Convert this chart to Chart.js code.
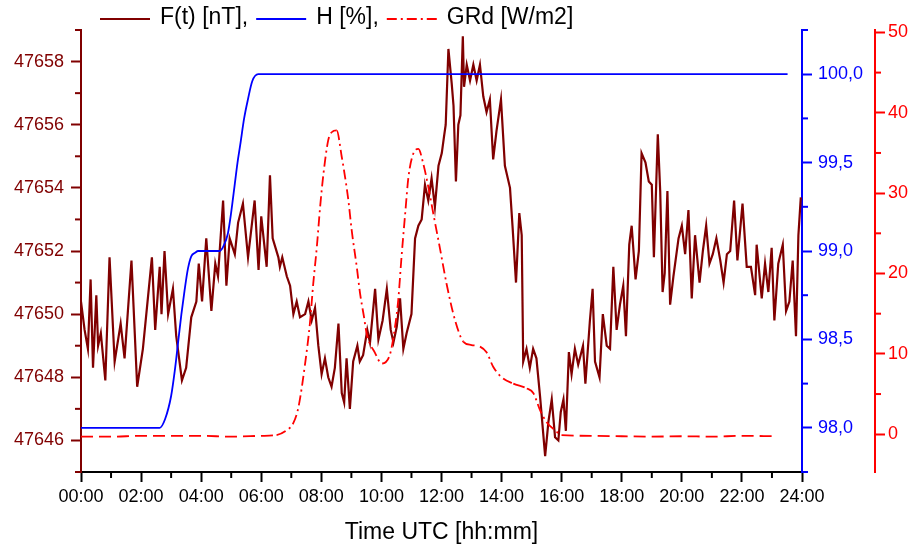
<!DOCTYPE html>
<html>
<head>
<meta charset="utf-8">
<script src="https://cdn.jsdelivr.net/npm/chart.js@4.4.0/dist/chart.umd.min.js"></script>
<style>
  html, body { margin: 0; padding: 0; background: #fff; }
</style>
</head>
<body>
<canvas id="chart" width="912" height="546"></canvas>
<script>
// F(t) [nT], hours UTC
const fieldHours = [0.00, 0.12, 0.23, 0.32, 0.40, 0.51, 0.57, 0.66, 0.81, 0.95, 1.12, 1.32, 1.45, 1.68, 1.87, 2.06, 2.36, 2.47, 2.62, 2.68, 2.78, 2.90, 3.06, 3.17, 3.36, 3.50, 3.67, 3.84, 3.92, 4.03, 4.17, 4.34, 4.47, 4.56, 4.73, 4.84, 4.95, 5.12, 5.23, 5.39, 5.56, 5.78, 5.91, 6.00, 6.18, 6.29, 6.38, 6.57, 6.62, 6.70, 6.85, 6.96, 7.07, 7.18, 7.29, 7.46, 7.57, 7.68, 7.79, 7.90, 8.01, 8.12, 8.23, 8.34, 8.45, 8.57, 8.68, 8.76, 8.84, 8.95, 9.06, 9.20, 9.28, 9.39, 9.53, 9.62, 9.79, 9.90, 10.04, 10.18, 10.31, 10.40, 10.51, 10.62, 10.73, 10.84, 11.00, 11.12, 11.23, 11.34, 11.45, 11.56, 11.67, 11.78, 11.90, 12.01, 12.08, 12.14, 12.23, 12.34, 12.40, 12.48, 12.56, 12.63, 12.71, 12.75, 12.84, 12.95, 13.06, 13.17, 13.28, 13.39, 13.50, 13.61, 13.72, 13.83, 13.98, 14.11, 14.28, 14.37, 14.48, 14.59, 14.67, 14.72, 14.83, 14.94, 15.05, 15.16, 15.28, 15.45, 15.56, 15.67, 15.78, 15.89, 15.97, 16.06, 16.14, 16.24, 16.33, 16.44, 16.55, 16.71, 16.79, 16.94, 17.03, 17.11, 17.26, 17.37, 17.50, 17.61, 17.72, 17.83, 17.94, 18.05, 18.14, 18.25, 18.33, 18.46, 18.57, 18.66, 18.79, 18.90, 19.00, 19.07, 19.20, 19.28, 19.36, 19.43, 19.52, 19.61, 19.72, 19.89, 20.00, 20.11, 20.22, 20.33, 20.44, 20.59, 20.70, 20.81, 20.92, 21.03, 21.15, 21.28, 21.39, 21.50, 21.61, 21.74, 21.85, 22.02, 22.16, 22.30, 22.44, 22.49, 22.66, 22.77, 22.88, 22.99, 23.08, 23.21, 23.36, 23.47, 23.58, 23.69, 23.80, 23.88, 23.96]
const fieldValues = [47650.4, 47649.5, 47648.9, 47651.1, 47648.3, 47650.6, 47649.0, 47649.4, 47647.9, 47651.8, 47648.5, 47649.7, 47648.6, 47651.7, 47647.7, 47648.9, 47651.8, 47649.5, 47651.5, 47650.0, 47652.0, 47650.0, 47650.8, 47649.3, 47647.9, 47648.3, 47649.9, 47650.4, 47651.6, 47650.4, 47652.4, 47650.1, 47651.6, 47651.2, 47653.6, 47650.9, 47652.4, 47651.9, 47652.9, 47653.5, 47651.8, 47653.6, 47651.4, 47653.1, 47651.5, 47654.4, 47652.4, 47651.8, 47651.5, 47651.8, 47651.2, 47650.9, 47650.0, 47650.4, 47649.9, 47650.0, 47650.4, 47649.8, 47650.2, 47649.0, 47648.1, 47648.6, 47648.0, 47647.7, 47648.3, 47649.7, 47647.5, 47647.2, 47648.6, 47647.0, 47648.5, 47649.0, 47648.5, 47648.7, 47649.5, 47649.1, 47650.8, 47649.2, 47649.8, 47650.8, 47649.5, 47649.1, 47649.6, 47650.5, 47648.9, 47649.4, 47650.0, 47652.4, 47652.8, 47653.0, 47654.1, 47653.6, 47654.3, 47653.4, 47654.7, 47655.1, 47655.6, 47656.0, 47658.4, 47657.3, 47656.6, 47654.2, 47656.0, 47656.3, 47658.8, 47657.2, 47657.9, 47657.4, 47657.9, 47657.4, 47657.9, 47656.9, 47656.4, 47656.8, 47654.9, 47655.8, 47656.8, 47654.7, 47654.0, 47652.7, 47651.0, 47653.2, 47652.5, 47648.5, 47648.9, 47648.3, 47648.9, 47648.6, 47647.4, 47645.5, 47646.6, 47647.3, 47646.1, 47646.0, 47646.9, 47647.3, 47646.3, 47648.8, 47648.1, 47648.9, 47648.4, 47649.0, 47647.8, 47649.8, 47650.8, 47648.5, 47648.0, 47650.0, 47649.0, 47648.9, 47651.5, 47649.5, 47650.3, 47650.9, 47649.3, 47652.2, 47652.8, 47651.1, 47652.0, 47655.1, 47654.8, 47654.2, 47654.1, 47651.8, 47655.7, 47653.9, 47650.7, 47651.3, 47653.9, 47650.3, 47651.2, 47652.4, 47652.8, 47651.9, 47653.3, 47650.5, 47652.5, 47651.0, 47652.0, 47652.8, 47651.6, 47651.9, 47652.4, 47651.7, 47651.0, 47651.9, 47652.0, 47653.6, 47651.7, 47653.5, 47651.5, 47651.5, 47650.6, 47652.2, 47650.5, 47651.6, 47650.7, 47652.1, 47649.8, 47651.6, 47652.2, 47650.1, 47650.4, 47651.7, 47649.3, 47652.5, 47653.7]

// H [%]
const humidityHours = [0, 2.62, 2.8, 3.0, 3.12, 3.23, 3.34, 3.45, 3.56, 3.67, 3.8, 3.9, 4.62, 4.75, 4.89, 5.0, 5.12, 5.21, 5.3, 5.43, 5.56, 5.7, 5.9, 23.52]
const humidityValues = [98.0, 98.0, 98.05, 98.18, 98.32, 98.48, 98.64, 98.78, 98.9, 98.97, 98.99, 99.0, 99.0, 99.03, 99.1, 99.22, 99.38, 99.5, 99.6, 99.75, 99.86, 99.96, 100.0, 100.0]

// GRd [W/m2]
const radiationHours = [0, 1, 2, 3, 4, 5, 6, 6.51, 6.85, 7.07, 7.24, 7.46, 7.62, 7.73, 7.85, 7.96, 8.07, 8.23, 8.35, 8.51, 8.68, 8.79, 8.9, 9.01, 9.18, 9.29, 9.42, 9.51, 9.79, 10.01, 10.29, 10.45, 10.56, 10.67, 10.79, 10.9, 11.06, 11.23, 11.39, 11.56, 11.73, 11.95, 12.17, 12.45, 12.73, 13.0, 13.28, 13.5, 13.72, 14.0, 14.39, 14.84, 15.06, 15.28, 15.5, 15.78, 16.0, 17, 18, 19, 20, 21, 22, 23.04]
const radiationValues = [-0.3, -0.3, -0.2, -0.2, -0.2, -0.3, -0.2, -0.1, 0.5, 1.4, 3.4, 8.8, 13.8, 18.7, 23.3, 28.3, 32.4, 36.6, 37.6, 37.8, 34.5, 32.0, 29.1, 25.4, 20.8, 17.5, 14.6, 12.5, 10.1, 8.8, 10.0, 13.3, 16.7, 22.1, 27.4, 32.0, 34.9, 35.5, 33.7, 30.8, 27.4, 23.1, 18.7, 14.2, 11.5, 11.1, 10.9, 10.2, 8.4, 7.1, 6.3, 5.7, 5.1, 3.0, 1.5, 0.5, -0.1, -0.2, -0.25, -0.3, -0.25, -0.3, -0.2, -0.25]

const seriesNames = ['F(t) [nT],', 'H [%],', 'GRd [W/m2]']

const timeTicks = [0, 2, 4, 6, 8, 10, 12, 14, 16, 18, 20, 22, 24]
const timeMinor = [1, 3, 5, 7, 9, 11, 13, 15, 17, 19, 21, 23]
const fieldTicks = [47646, 47648, 47650, 47652, 47654, 47656, 47658]
const fieldMinor = [47645, 47647, 47649, 47651, 47653, 47655, 47657, 47659]
const humidityTicks = [98, 98.5, 99, 99.5, 100]
const humidityMinor = [97.75, 98.25, 98.75, 99.25, 99.75, 100.25]
const radiationTicks = [0, 10, 20, 30, 40, 50]
const radiationMinor = [5, 15, 25, 35, 45]

const MAROON = '#800000'
const BLUE = '#0000ff'
const RED = '#ff0000'
const FONT = '"Liberation Sans", Arial, sans-serif'

Chart.defaults.font.family = FONT
Chart.defaults.font.size = 18

const points = (xs, ys) => xs.map((x, i) => ({ x: x, y: ys[i] }))
const pad2 = n => (n < 10 ? '0' : '') + n

const minorTicks = {
  id: 'minorTicks',
  afterDraw(chart) {
    const ctx = chart.ctx
    const marks = [
      ['x', timeMinor, '#000'],
      ['yF', fieldMinor, MAROON],
      ['yH', humidityMinor, BLUE],
      ['yR', radiationMinor, RED],
    ]
    ctx.save()
    ctx.lineWidth = 2
    marks.forEach(([id, values, color]) => {
      const s = chart.scales[id]
      ctx.strokeStyle = color
      values.forEach(v => {
        const p = s.getPixelForValue(v)
        ctx.beginPath()
        if (s.isHorizontal()) {
          ctx.moveTo(p, s.top); ctx.lineTo(p, s.top + 6)
        } else if (s.position === 'left') {
          ctx.moveTo(s.right, p); ctx.lineTo(s.right - 6, p)
        } else {
          ctx.moveTo(s.left, p); ctx.lineTo(s.left + 6, p)
        }
        ctx.stroke()
      })
    })
    ctx.restore()
  }
}

const lineLegend = {
  id: 'lineLegend',
  afterDraw(chart) {
    const ctx = chart.ctx
    const y = 18
    let x = 100
    ctx.save()
    ctx.font = '23px ' + FONT
    ctx.textBaseline = 'middle'
    chart.data.datasets.forEach(ds => {
      ctx.strokeStyle = ds.borderColor
      ctx.lineWidth = ds.borderWidth
      ctx.setLineDash(ds.borderDash || [])
      ctx.beginPath()
      ctx.moveTo(x, y + 1)
      ctx.lineTo(x + 50, y + 1)
      ctx.stroke()
      ctx.setLineDash([])
      ctx.fillStyle = '#000'
      ctx.fillText(ds.label, x + 60, y)
      x += 60 + ctx.measureText(ds.label).width + 8
    })
    ctx.restore()
  }
}

const axisStyle = (color, ticks, fmt, padding, size) => ({
  afterBuildTicks: s => { s.ticks = ticks.map(v => ({ value: v })) },
  afterFit: s => { if (s.isHorizontal()) s.height = size; else s.width = size },
  grid: { drawOnChartArea: false, drawTicks: true, tickLength: 10, tickColor: color, tickWidth: 2 },
  border: { display: true, color: color, width: 2 },
  ticks: { color: color, padding: padding, autoSkip: false, maxRotation: 0, callback: fmt, font: { size: 18 } },
})

new Chart(document.getElementById('chart'), {
  type: 'line',
  data: {
    datasets: [
      {
        label: seriesNames[0],
        data: points(fieldHours, fieldValues),
        yAxisID: 'yF',
        borderColor: MAROON,
        borderWidth: 2.2,
        pointRadius: 0,
        order: 2,
      },
      {
        label: seriesNames[1],
        data: points(humidityHours, humidityValues),
        yAxisID: 'yH',
        borderColor: BLUE,
        borderWidth: 1.8,
        pointRadius: 0,
        cubicInterpolationMode: 'monotone',
        order: 1,
      },
      {
        label: seriesNames[2],
        data: points(radiationHours, radiationValues),
        yAxisID: 'yR',
        borderColor: RED,
        borderWidth: 1.8,
        borderDash: [10, 4, 2, 4],
        pointRadius: 0,
        cubicInterpolationMode: 'monotone',
        segment: {
          borderDash: c => Math.abs(c.p1.parsed.y - c.p0.parsed.y) < 0.6 ? [12, 6] : [10, 4, 2, 4],
        },
        order: 0,
      },
    ],
  },
  options: {
    responsive: false,
    animation: false,
    layout: { padding: { top: 30, left: 0, right: 0, bottom: 0 } },
    plugins: { legend: { display: false }, tooltip: { enabled: false } },
    scales: {
      x: Object.assign(axisStyle('#000', timeTicks, v => pad2(v) + ':00', 4, 74), {
        type: 'linear',
        min: 0,
        max: 24,
        title: { display: true, text: 'Time UTC [hh:mm]', color: '#000', font: { size: 23 }, padding: { top: 0, bottom: 0 } },
      }),
      yF: Object.assign(axisStyle(MAROON, fieldTicks, v => String(v), 7, 81), {
        type: 'linear',
        position: 'left',
        min: 47645,
        max: 47659,
      }),
      yH: Object.assign(axisStyle(BLUE, humidityTicks, v => v.toFixed(1).replace('.', ','), 6, 73), {
        type: 'linear',
        position: 'right',
        weight: 0,
        min: 97.75,
        max: 100.25,
      }),
      yR: Object.assign(axisStyle(RED, radiationTicks, v => String(v), 3, 37), {
        type: 'linear',
        position: 'right',
        weight: 1,
        min: -4.7,
        max: 50.3,
      }),
    },
  },
  plugins: [minorTicks, lineLegend],
})
</script>
</body>
</html>
